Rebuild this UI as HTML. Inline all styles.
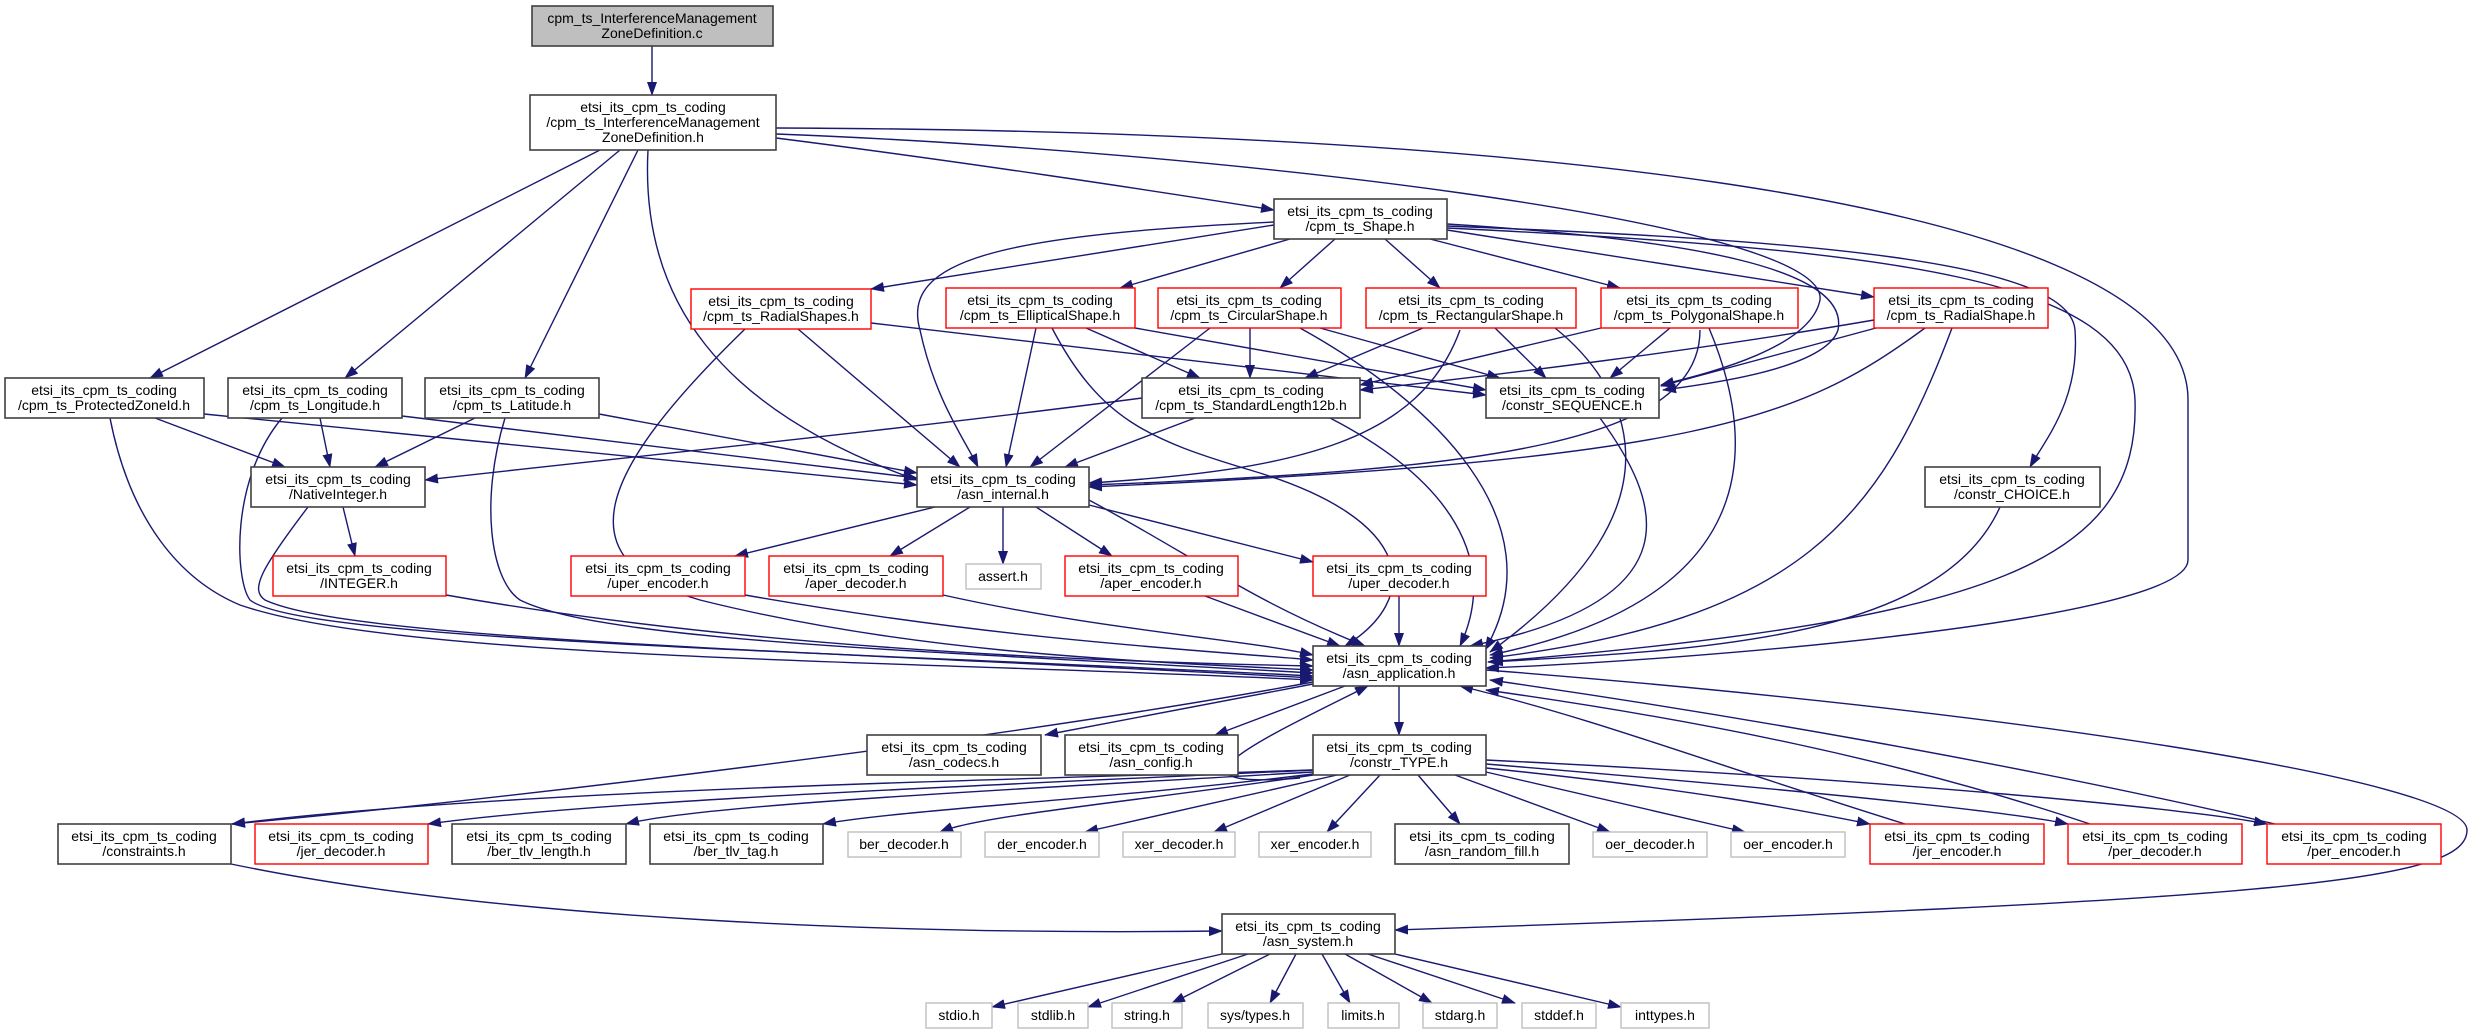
<!DOCTYPE html>
<html><head><meta charset="utf-8"><style>
html,body{margin:0;padding:0;background:#fff;}
svg{display:block;}
text{font-family:"Liberation Sans",sans-serif;font-size:14px;fill:#000;text-anchor:middle;}
.e{fill:none;stroke:#191970;stroke-width:1.4;marker-end:url(#a);}
.n{fill:#fff;stroke:#404040;stroke-width:1.6;}
.r{fill:#fff;stroke:#ff0000;stroke-width:1.4;}
.g{fill:#fff;stroke:#bfbfbf;stroke-width:1.4;}
</style></head><body>
<svg width="2469" height="1035" viewBox="0 0 2469 1035" xmlns="http://www.w3.org/2000/svg">
<defs><marker id="a" markerUnits="userSpaceOnUse" markerWidth="14" markerHeight="10" refX="13" refY="5" orient="auto"><path d="M0,0 L14,5 L0,10 Z" fill="#191970"/></marker></defs>
<g>
<path class="e" d="M652,46 L652,95"/>
<path class="e" d="M600,150 L150,378"/>
<path class="e" d="M620,150 L345,378"/>
<path class="e" d="M638,150 L525,378"/>
<path class="e" d="M648,150 C640,300 720,410 917,480"/>
<path class="e" d="M776,138 C950,160 1150,190 1274,210"/>
<path class="e" d="M776,134 C1200,150 1830,220 1820,300 C1810,350 1700,375 1661,385"/>
<path class="e" d="M776,128 C1400,130 2188,180 2188,400 L2188,560 C2188,620 1700,660 1486,668"/>
<path class="e" d="M1274,225 L871,289"/>
<path class="e" d="M1290,239 L1120,288"/>
<path class="e" d="M1335,239 L1280,288"/>
<path class="e" d="M1385,239 L1440,288"/>
<path class="e" d="M1430,239 L1620,288"/>
<path class="e" d="M1447,230 L1874,297"/>
<path class="e" d="M1274,222 C1000,235 900,260 920,330 C935,400 965,440 978,467"/>
<path class="e" d="M1447,224 C1700,240 1850,270 1838,330 C1825,370 1700,385 1663,390"/>
<path class="e" d="M1447,226 C1800,240 2070,260 2075,330 C2080,400 2045,440 2030,467"/>
<path class="e" d="M1447,228 C1900,250 2130,280 2135,400 C2140,560 2000,620 1488,662"/>
<path class="e" d="M871,323 L1486,395"/>
<path class="e" d="M798,329 L960,467"/>
<path class="e" d="M745,329 C600,470 560,560 700,600 C900,650 1100,660 1313,670"/>
<path class="e" d="M1036,328 L1006,467"/>
<path class="e" d="M1086,328 L1200,378"/>
<path class="e" d="M1135,328 L1486,390"/>
<path class="e" d="M1052,328 C1100,420 1150,440 1250,470 C1420,520 1420,600 1345,646"/>
<path class="e" d="M1210,328 L1030,467"/>
<path class="e" d="M1250,328 L1250,378"/>
<path class="e" d="M1320,328 L1500,378"/>
<path class="e" d="M1300,328 C1430,400 1560,520 1485,650"/>
<path class="e" d="M1423,328 L1305,378"/>
<path class="e" d="M1495,328 L1546,378"/>
<path class="e" d="M1460,330 C1420,440 1300,470 1089,483"/>
<path class="e" d="M1555,328 C1620,380 1700,500 1490,652"/>
<path class="e" d="M1601,328 L1360,385"/>
<path class="e" d="M1670,328 L1610,378"/>
<path class="e" d="M1700,330 C1700,440 1500,470 1089,485"/>
<path class="e" d="M1709,328 C1760,450 1760,600 1490,655"/>
<path class="e" d="M1874,320 C1700,350 1500,375 1360,390"/>
<path class="e" d="M1876,328 L1661,386"/>
<path class="e" d="M1925,328 C1800,420 1700,460 1089,487"/>
<path class="e" d="M1952,328 C1880,520 1800,620 1490,658"/>
<path class="e" d="M2000,507 C1940,640 1700,650 1490,662"/>
<path class="e" d="M1600,418 C1660,500 1700,600 1470,646"/>
<path class="e" d="M1195,418 L1065,467"/>
<path class="e" d="M1142,398 C900,430 600,460 425,480"/>
<path class="e" d="M1330,418 C1450,480 1500,560 1460,646"/>
<path class="e" d="M155,418 L285,467"/>
<path class="e" d="M204,414 L917,485"/>
<path class="e" d="M110,418 C130,520 180,580 240,605 C400,660 900,660 1313,680"/>
<path class="e" d="M320,418 L330,467"/>
<path class="e" d="M402,416 L917,478"/>
<path class="e" d="M282,418 C230,480 235,580 250,600 C300,640 800,650 1313,676"/>
<path class="e" d="M475,418 L375,467"/>
<path class="e" d="M599,414 L917,473"/>
<path class="e" d="M505,418 C480,500 490,580 520,600 C600,640 900,650 1313,673"/>
<path class="e" d="M343,507 L355,556"/>
<path class="e" d="M308,507 C260,570 250,590 265,600 C350,640 800,650 1313,678"/>
<path class="e" d="M446,595 C700,640 1000,660 1313,666"/>
<path class="e" d="M935,507 L735,556"/>
<path class="e" d="M970,507 L890,556"/>
<path class="e" d="M1003,507 L1003,564"/>
<path class="e" d="M1036,507 L1112,556"/>
<path class="e" d="M1089,505 L1313,562"/>
<path class="e" d="M1089,500 C1200,560 1250,600 1365,646"/>
<path class="e" d="M745,595 C1000,640 1200,650 1313,660"/>
<path class="e" d="M943,595 C1100,630 1250,640 1313,655"/>
<path class="e" d="M1205,596 L1340,646"/>
<path class="e" d="M1399,596 L1399,646"/>
<path class="e" d="M1313,684 L1045,735"/>
<path class="e" d="M1345,686 L1215,735"/>
<path class="e" d="M1399,686 L1399,735"/>
<path class="e" d="M1313,682 C1000,740 500,800 232,824"/>
<path class="e" d="M1486,670 C2000,710 2467,780 2467,830 C2467,880 2300,900 1395,930"/>
<path class="e" d="M1313,770 C1000,780 500,790 232,824"/>
<path class="e" d="M1313,770 C1000,785 600,800 428,824"/>
<path class="e" d="M1313,772 C1000,790 700,805 626,824"/>
<path class="e" d="M1313,774 C1100,800 900,810 823,824"/>
<path class="e" d="M1313,775 C1150,800 980,815 940,832"/>
<path class="e" d="M1337,775 L1085,832"/>
<path class="e" d="M1350,775 L1214,832"/>
<path class="e" d="M1380,775 L1327,832"/>
<path class="e" d="M1418,775 L1460,824"/>
<path class="e" d="M1455,775 L1610,832"/>
<path class="e" d="M1486,772 L1745,832"/>
<path class="e" d="M1486,768 C1700,790 1800,810 1870,824"/>
<path class="e" d="M1486,764 C1800,790 2000,810 2068,824"/>
<path class="e" d="M1486,760 C1900,780 2200,810 2267,824"/>
<path class="e" d="M1300,778 C1150,790 1260,740 1368,686"/>
<path class="e" d="M1905,824 C1700,760 1600,720 1460,686"/>
<path class="e" d="M2090,824 C1900,760 1700,720 1486,690"/>
<path class="e" d="M2275,824 C2000,760 1700,710 1490,680"/>
<path class="e" d="M231,864 C500,920 900,935 1222,931"/>
<path class="e" d="M1222,954 L992,1007"/>
<path class="e" d="M1248,954 L1088,1007"/>
<path class="e" d="M1270,954 L1172,1003"/>
<path class="e" d="M1296,954 L1270,1003"/>
<path class="e" d="M1322,954 L1350,1003"/>
<path class="e" d="M1345,954 L1432,1003"/>
<path class="e" d="M1368,954 L1515,1003"/>
<path class="e" d="M1395,954 L1621,1007"/>
</g>
<g>
<rect x="532" y="6" width="241" height="40" fill="#bfbfbf" stroke="#404040" stroke-width="1.6"/>
<text x="652" y="23">cpm_ts_InterferenceManagement</text><text x="652" y="38">ZoneDefinition.c</text>

<rect class="n" x="530" y="95" width="246" height="55"/>
<text x="653" y="112">etsi_its_cpm_ts_coding</text><text x="653" y="127">/cpm_ts_InterferenceManagement</text><text x="653" y="142">ZoneDefinition.h</text>

<rect class="n" x="1274" y="199" width="173" height="40"/><text x="1360" y="216">etsi_its_cpm_ts_coding</text><text x="1360" y="231">/cpm_ts_Shape.h</text>

<rect class="r" x="691" y="289" width="180" height="40"/><text x="781" y="306">etsi_its_cpm_ts_coding</text><text x="781" y="321">/cpm_ts_RadialShapes.h</text>
<rect class="r" x="946" y="288" width="189" height="40"/><text x="1040" y="305">etsi_its_cpm_ts_coding</text><text x="1040" y="320">/cpm_ts_EllipticalShape.h</text>
<rect class="r" x="1158" y="288" width="183" height="40"/><text x="1249" y="305">etsi_its_cpm_ts_coding</text><text x="1249" y="320">/cpm_ts_CircularShape.h</text>
<rect class="r" x="1366" y="288" width="210" height="40"/><text x="1471" y="305">etsi_its_cpm_ts_coding</text><text x="1471" y="320">/cpm_ts_RectangularShape.h</text>
<rect class="r" x="1601" y="288" width="197" height="40"/><text x="1699" y="305">etsi_its_cpm_ts_coding</text><text x="1699" y="320">/cpm_ts_PolygonalShape.h</text>
<rect class="r" x="1874" y="288" width="174" height="40"/><text x="1961" y="305">etsi_its_cpm_ts_coding</text><text x="1961" y="320">/cpm_ts_RadialShape.h</text>

<rect class="n" x="5" y="378" width="199" height="40"/><text x="104" y="395">etsi_its_cpm_ts_coding</text><text x="104" y="410">/cpm_ts_ProtectedZoneId.h</text>
<rect class="n" x="228" y="378" width="174" height="40"/><text x="315" y="395">etsi_its_cpm_ts_coding</text><text x="315" y="410">/cpm_ts_Longitude.h</text>
<rect class="n" x="425" y="378" width="174" height="40"/><text x="512" y="395">etsi_its_cpm_ts_coding</text><text x="512" y="410">/cpm_ts_Latitude.h</text>
<rect class="n" x="1142" y="378" width="218" height="40"/><text x="1251" y="395">etsi_its_cpm_ts_coding</text><text x="1251" y="410">/cpm_ts_StandardLength12b.h</text>
<rect class="n" x="1486" y="378" width="173" height="40"/><text x="1572" y="395">etsi_its_cpm_ts_coding</text><text x="1572" y="410">/constr_SEQUENCE.h</text>

<rect class="n" x="251" y="467" width="174" height="40"/><text x="338" y="484">etsi_its_cpm_ts_coding</text><text x="338" y="499">/NativeInteger.h</text>
<rect class="n" x="917" y="467" width="172" height="40"/><text x="1003" y="484">etsi_its_cpm_ts_coding</text><text x="1003" y="499">/asn_internal.h</text>
<rect class="n" x="1925" y="467" width="175" height="40"/><text x="2012" y="484">etsi_its_cpm_ts_coding</text><text x="2012" y="499">/constr_CHOICE.h</text>

<rect class="r" x="273" y="556" width="173" height="40"/><text x="359" y="573">etsi_its_cpm_ts_coding</text><text x="359" y="588">/INTEGER.h</text>
<rect class="r" x="571" y="556" width="174" height="40"/><text x="658" y="573">etsi_its_cpm_ts_coding</text><text x="658" y="588">/uper_encoder.h</text>
<rect class="r" x="769" y="556" width="174" height="40"/><text x="856" y="573">etsi_its_cpm_ts_coding</text><text x="856" y="588">/aper_decoder.h</text>
<rect class="g" x="966" y="564" width="75" height="25"/><text x="1003" y="581">assert.h</text>
<rect class="r" x="1065" y="556" width="173" height="40"/><text x="1151" y="573">etsi_its_cpm_ts_coding</text><text x="1151" y="588">/aper_encoder.h</text>
<rect class="r" x="1313" y="556" width="173" height="40"/><text x="1399" y="573">etsi_its_cpm_ts_coding</text><text x="1399" y="588">/uper_decoder.h</text>

<rect class="n" x="1313" y="646" width="173" height="40"/><text x="1399" y="663">etsi_its_cpm_ts_coding</text><text x="1399" y="678">/asn_application.h</text>

<rect class="n" x="867" y="735" width="174" height="40"/><text x="954" y="752">etsi_its_cpm_ts_coding</text><text x="954" y="767">/asn_codecs.h</text>
<rect class="n" x="1065" y="735" width="173" height="40"/><text x="1151" y="752">etsi_its_cpm_ts_coding</text><text x="1151" y="767">/asn_config.h</text>
<rect class="n" x="1313" y="735" width="173" height="40"/><text x="1399" y="752">etsi_its_cpm_ts_coding</text><text x="1399" y="767">/constr_TYPE.h</text>

<rect class="n" x="58" y="824" width="173" height="40"/><text x="144" y="841">etsi_its_cpm_ts_coding</text><text x="144" y="856">/constraints.h</text>
<rect class="r" x="255" y="824" width="173" height="40"/><text x="341" y="841">etsi_its_cpm_ts_coding</text><text x="341" y="856">/jer_decoder.h</text>
<rect class="n" x="452" y="824" width="174" height="40"/><text x="539" y="841">etsi_its_cpm_ts_coding</text><text x="539" y="856">/ber_tlv_length.h</text>
<rect class="n" x="650" y="824" width="173" height="40"/><text x="736" y="841">etsi_its_cpm_ts_coding</text><text x="736" y="856">/ber_tlv_tag.h</text>
<rect class="g" x="848" y="832" width="113" height="25"/><text x="904" y="849">ber_decoder.h</text>
<rect class="g" x="985" y="832" width="114" height="25"/><text x="1042" y="849">der_encoder.h</text>
<rect class="g" x="1123" y="832" width="112" height="25"/><text x="1179" y="849">xer_decoder.h</text>
<rect class="g" x="1259" y="832" width="112" height="25"/><text x="1315" y="849">xer_encoder.h</text>
<rect class="n" x="1395" y="824" width="174" height="40"/><text x="1482" y="841">etsi_its_cpm_ts_coding</text><text x="1482" y="856">/asn_random_fill.h</text>
<rect class="g" x="1593" y="832" width="114" height="25"/><text x="1650" y="849">oer_decoder.h</text>
<rect class="g" x="1731" y="832" width="114" height="25"/><text x="1788" y="849">oer_encoder.h</text>
<rect class="r" x="1870" y="824" width="174" height="40"/><text x="1957" y="841">etsi_its_cpm_ts_coding</text><text x="1957" y="856">/jer_encoder.h</text>
<rect class="r" x="2068" y="824" width="174" height="40"/><text x="2155" y="841">etsi_its_cpm_ts_coding</text><text x="2155" y="856">/per_decoder.h</text>
<rect class="r" x="2267" y="824" width="174" height="40"/><text x="2354" y="841">etsi_its_cpm_ts_coding</text><text x="2354" y="856">/per_encoder.h</text>

<rect class="n" x="1222" y="914" width="173" height="40"/><text x="1308" y="931">etsi_its_cpm_ts_coding</text><text x="1308" y="946">/asn_system.h</text>

<rect class="g" x="926" y="1003" width="66" height="25"/><text x="959" y="1020">stdio.h</text>
<rect class="g" x="1018" y="1003" width="70" height="25"/><text x="1053" y="1020">stdlib.h</text>
<rect class="g" x="1112" y="1003" width="70" height="25"/><text x="1147" y="1020">string.h</text>
<rect class="g" x="1208" y="1003" width="95" height="25"/><text x="1255" y="1020">sys/types.h</text>
<rect class="g" x="1328" y="1003" width="71" height="25"/><text x="1363" y="1020">limits.h</text>
<rect class="g" x="1423" y="1003" width="74" height="25"/><text x="1460" y="1020">stdarg.h</text>
<rect class="g" x="1522" y="1003" width="74" height="25"/><text x="1559" y="1020">stddef.h</text>
<rect class="g" x="1621" y="1003" width="88" height="25"/><text x="1665" y="1020">inttypes.h</text>
</g>
</svg>
</body></html>
